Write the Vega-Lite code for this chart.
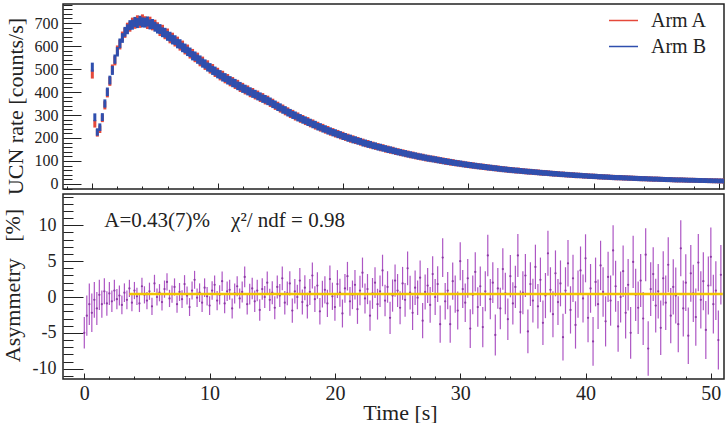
{
  "$schema": "https://vega.github.io/schema/vega-lite/v6.json",
  "background": "white",
  "padding": {"left": 0, "top": 3, "right": 2, "bottom": 0},
  "config": {
    "font": "Liberation Serif",
    "view": {"stroke": "#222", "strokeWidth": 1.5},
    "axis": {"domain": false, "grid": false, "tickColor": "#222", "tickWidth": 1, "labelColor": "#222", "titleColor": "#222", "labelFont": "Liberation Serif", "titleFont": "Liberation Serif", "titleFontWeight": "normal"},
    "legend": {"labelFont": "Liberation Serif"},
    "text": {"font": "Liberation Serif"}
  },
  "datasets": {
    "ucn": [
      {"t":0,"a":478,"b":508,"s":-5,"e":2.2},
      {"t":0.2,"a":262,"b":290,"s":-2.6,"e":2.8},
      {"t":0.4,"a":222,"b":226,"s":-1,"e":2.9},
      {"t":0.6,"a":238,"b":247,"s":-2.2,"e":2.7},
      {"t":0.8,"a":286,"b":291,"s":-0.4,"e":2.5},
      {"t":1,"a":342,"b":350,"s":-1.6,"e":2.3},
      {"t":1.2,"a":395,"b":401,"s":0.3,"e":2.1},
      {"t":1.4,"a":446,"b":452,"s":-1,"e":1.9},
      {"t":1.6,"a":500,"b":494,"s":0.8,"e":1.8},
      {"t":1.8,"a":536,"b":543,"s":-0.9,"e":1.7},
      {"t":2,"a":582,"b":575,"s":0.5,"e":1.6},
      {"t":2.2,"a":606,"b":612,"s":-0.6,"e":1.5},
      {"t":2.4,"a":642,"b":635,"s":0.9,"e":1.5},
      {"t":2.6,"a":657,"b":662,"s":-0.3,"e":1.4},
      {"t":2.8,"a":680,"b":673,"s":0.2,"e":1.4},
      {"t":3,"a":684,"b":691,"s":-1.1,"e":1.3},
      {"t":3.2,"a":702,"b":693,"s":0.6,"e":1.3},
      {"t":3.4,"a":697,"b":705,"s":-0.4,"e":1.3},
      {"t":3.6,"a":712,"b":700,"s":1.2,"e":1.2},
      {"t":3.8,"a":701,"b":710,"s":-0.8,"e":1.2},
      {"t":4,"a":716,"b":703,"s":0.9,"e":1.2},
      {"t":4.2,"a":708,"b":702,"s":0.1,"e":1.2},
      {"t":4.4,"a":696,"b":707,"s":-0.9,"e":1.2},
      {"t":4.6,"a":706,"b":694,"s":1.5,"e":1.2},
      {"t":4.8,"a":690,"b":696,"s":0.3,"e":1.2},
      {"t":5,"a":693,"b":684,"s":-0.5,"e":1.2},
      {"t":5.2,"a":682,"b":676,"s":0.8,"e":1.2},
      {"t":5.4,"a":665,"b":674,"s":-1.3,"e":1.2},
      {"t":5.6,"a":671,"b":660,"s":1.9,"e":1.2},
      {"t":5.8,"a":651,"b":658,"s":0,"e":1.2},
      {"t":6,"a":655,"b":644,"s":0.6,"e":1.2},
      {"t":6.2,"a":633,"b":641,"s":-0.7,"e":1.2},
      {"t":6.4,"a":637,"b":628,"s":1.1,"e":1.2},
      {"t":6.6,"a":619,"b":626,"s":2.1,"e":1.2},
      {"t":6.8,"a":620,"b":611,"s":-0.2,"e":1.2},
      {"t":7,"a":601,"b":609,"s":0.4,"e":1.2},
      {"t":7.2,"a":603,"b":594,"s":1.4,"e":1.2},
      {"t":7.4,"a":584,"b":590,"s":-1,"e":1.2},
      {"t":7.6,"a":586,"b":577,"s":0.7,"e":1.25},
      {"t":7.8,"a":566,"b":573,"s":-0.3,"e":1.25},
      {"t":8,"a":567,"b":558,"s":1.8,"e":1.25},
      {"t":8.2,"a":550,"b":556,"s":0.2,"e":1.25},
      {"t":8.4,"a":551,"b":543,"s":-1.4,"e":1.25},
      {"t":8.6,"a":532,"b":539,"s":0.9,"e":1.25},
      {"t":8.8,"a":534,"b":526,"s":2.4,"e":1.25},
      {"t":9,"a":516,"b":522,"s":-0.1,"e":1.3},
      {"t":9.2,"a":518,"b":509,"s":0.6,"e":1.3},
      {"t":9.4,"a":500,"b":506,"s":-0.8,"e":1.3},
      {"t":9.6,"a":502,"b":494,"s":1.3,"e":1.3},
      {"t":9.8,"a":485,"b":491,"s":0.1,"e":1.3},
      {"t":10,"a":486,"b":479,"s":-1.2,"e":1.3},
      {"t":10.2,"a":470,"b":476,"s":0.9,"e":1.3},
      {"t":10.4,"a":473,"b":465,"s":1.7,"e":1.3},
      {"t":10.6,"a":457,"b":463,"s":-0.5,"e":1.35},
      {"t":10.8,"a":459,"b":452,"s":0.3,"e":1.35},
      {"t":11,"a":444,"b":450,"s":2.2,"e":1.35},
      {"t":11.2,"a":446,"b":440,"s":-0.9,"e":1.35},
      {"t":11.4,"a":432,"b":438,"s":0.8,"e":1.35},
      {"t":11.6,"a":434,"b":427,"s":1,"e":1.4},
      {"t":11.8,"a":419,"b":425,"s":-1.6,"e":1.4},
      {"t":12,"a":421,"b":415,"s":0.5,"e":1.4},
      {"t":12.2,"a":408,"b":413,"s":1.5,"e":1.4},
      {"t":12.4,"a":410,"b":404,"s":-0.2,"e":1.4},
      {"t":12.6,"a":396,"b":402,"s":0.7,"e":1.45},
      {"t":12.8,"a":399,"b":393,"s":2.8,"e":1.45},
      {"t":13,"a":386,"b":391,"s":-1,"e":1.45},
      {"t":13.2,"a":388,"b":382,"s":0.4,"e":1.45},
      {"t":13.4,"a":375,"b":380,"s":1.2,"e":1.5},
      {"t":13.6,"a":377,"b":371,"s":-0.6,"e":1.5},
      {"t":13.8,"a":364,"b":369,"s":0.9,"e":1.5},
      {"t":14,"a":366,"b":361,"s":-1.8,"e":1.5},
      {"t":14.2,"a":353,"b":358,"s":1.1,"e":1.5},
      {"t":14.4,"a":353,"b":348,"s":0,"e":1.55},
      {"t":14.6,"a":340,"b":345,"s":2,"e":1.55},
      {"t":14.8,"a":340,"b":335,"s":-0.4,"e":1.55},
      {"t":15,"a":328,"b":333,"s":0.6,"e":1.6},
      {"t":15.2,"a":328,"b":323,"s":-1.5,"e":1.6},
      {"t":15.4,"a":316,"b":321,"s":1.4,"e":1.6},
      {"t":15.6,"a":316,"b":311,"s":0.2,"e":1.6},
      {"t":15.8,"a":304,"b":309,"s":2.6,"e":1.65},
      {"t":16,"a":305,"b":300,"s":-0.8,"e":1.65},
      {"t":16.2,"a":293,"b":298,"s":0.5,"e":1.65},
      {"t":16.4,"a":294,"b":289,"s":1.9,"e":1.7},
      {"t":16.6,"a":283,"b":287,"s":-1.9,"e":1.7},
      {"t":16.8,"a":283,"b":279,"s":0.8,"e":1.7},
      {"t":17,"a":273,"b":277,"s":0,"e":1.7},
      {"t":17.2,"a":274,"b":269,"s":2.3,"e":1.75},
      {"t":17.4,"a":263,"b":267,"s":-0.7,"e":1.75},
      {"t":17.6,"a":264,"b":259,"s":1.3,"e":1.75},
      {"t":17.8,"a":253,"b":258,"s":-1.2,"e":1.8},
      {"t":18,"a":254,"b":249,"s":0.7,"e":1.8},
      {"t":18.2,"a":244,"b":248,"s":3,"e":1.8},
      {"t":18.4,"a":245,"b":240,"s":-0.3,"e":1.8},
      {"t":18.6,"a":235,"b":239,"s":1.6,"e":1.85},
      {"t":18.8,"a":236,"b":231,"s":-2,"e":1.85},
      {"t":19,"a":226,"b":230,"s":0.4,"e":1.85},
      {"t":19.2,"a":227,"b":223,"s":1,"e":1.9},
      {"t":19.4,"a":218,"b":222,"s":-0.9,"e":1.9},
      {"t":19.6,"a":219,"b":215,"s":2.5,"e":1.9},
      {"t":19.8,"a":210,"b":214,"s":0.1,"e":1.9},
      {"t":20,"a":211,"b":207,"s":-1.4,"e":1.9},
      {"t":20.2,"a":203,"b":206,"s":1.8,"e":1.95},
      {"t":20.4,"a":203,"b":199,"s":0.6,"e":1.95},
      {"t":20.6,"a":195,"b":199,"s":-2.3,"e":1.95},
      {"t":20.8,"a":196,"b":192,"s":1.2,"e":2},
      {"t":21,"a":189,"b":192,"s":2.9,"e":2},
      {"t":21.2,"a":189,"b":186,"s":-0.6,"e":2},
      {"t":21.4,"a":182,"b":185,"s":0.3,"e":2},
      {"t":21.6,"a":182,"b":178,"s":1.7,"e":2.05},
      {"t":21.8,"a":175,"b":178,"s":-1.7,"e":2.05},
      {"t":22,"a":176,"b":172,"s":0.9,"e":2.05},
      {"t":22.2,"a":169,"b":172,"s":3.4,"e":2.1},
      {"t":22.4,"a":169,"b":166,"s":-0.2,"e":2.1},
      {"t":22.6,"a":163,"b":166,"s":1.1,"e":2.1},
      {"t":22.8,"a":163,"b":160,"s":-2.6,"e":2.1},
      {"t":23,"a":157,"b":160,"s":0.5,"e":2.15},
      {"t":23.2,"a":158,"b":155,"s":2,"e":2.15},
      {"t":23.4,"a":151,"b":154,"s":-1,"e":2.15},
      {"t":23.6,"a":152,"b":149,"s":0.8,"e":2.2},
      {"t":23.8,"a":146,"b":149,"s":3.7,"e":2.2},
      {"t":24,"a":147,"b":144,"s":-0.5,"e":2.2},
      {"t":24.2,"a":140.5,"b":143,"s":1.4,"e":2.2},
      {"t":24.4,"a":141,"b":138.5,"s":-2.9,"e":2.25},
      {"t":24.6,"a":135.5,"b":138,"s":0.2,"e":2.25},
      {"t":24.8,"a":136,"b":133.5,"s":2.3,"e":2.25},
      {"t":25,"a":130.5,"b":133,"s":0.9,"e":2.3},
      {"t":25.2,"a":131,"b":128.5,"s":-1.5,"e":2.3},
      {"t":25.4,"a":125.5,"b":128,"s":1.9,"e":2.3},
      {"t":25.6,"a":126.5,"b":124,"s":-0.4,"e":2.35},
      {"t":25.8,"a":121,"b":123.5,"s":4,"e":2.35},
      {"t":26,"a":121.5,"b":119,"s":0.6,"e":2.35},
      {"t":26.2,"a":116.5,"b":119,"s":-2.2,"e":2.4},
      {"t":26.4,"a":117.5,"b":115,"s":1.3,"e":2.4},
      {"t":26.6,"a":112,"b":114.5,"s":-0.1,"e":2.4},
      {"t":26.8,"a":113,"b":110.5,"s":2.7,"e":2.4},
      {"t":27,"a":108.5,"b":110.5,"s":-3.3,"e":2.45},
      {"t":27.2,"a":109.5,"b":107,"s":0.7,"e":2.45},
      {"t":27.4,"a":104.5,"b":107,"s":1.6,"e":2.45},
      {"t":27.6,"a":105.5,"b":103,"s":-1.1,"e":2.5},
      {"t":27.8,"a":100.5,"b":103,"s":3.2,"e":2.5},
      {"t":28,"a":101.5,"b":99,"s":0,"e":2.5},
      {"t":28.2,"a":96.5,"b":99,"s":1.8,"e":2.5},
      {"t":28.4,"a":98,"b":95.5,"s":-3.8,"e":2.6},
      {"t":28.6,"a":93,"b":95.5,"s":5.5,"e":2.7},
      {"t":28.8,"a":94.5,"b":92,"s":-0.6,"e":2.55},
      {"t":29,"a":89.8,"b":91.6,"s":0.9,"e":2.6},
      {"t":29.2,"a":90.8,"b":88.7,"s":-3.8,"e":2.6},
      {"t":29.4,"a":86.6,"b":88.9,"s":2.2,"e":2.6},
      {"t":29.6,"a":87.3,"b":85.2,"s":0.4,"e":2.6},
      {"t":29.8,"a":83.2,"b":85.4,"s":-1.9,"e":2.65},
      {"t":30,"a":84.1,"b":82.2,"s":5,"e":2.65},
      {"t":30.2,"a":80.3,"b":82.3,"s":1.1,"e":2.65},
      {"t":30.4,"a":81.2,"b":79.2,"s":-0.8,"e":2.7},
      {"t":30.6,"a":77.4,"b":79.3,"s":2.6,"e":2.7},
      {"t":30.8,"a":78.1,"b":76.3,"s":-4.4,"e":2.7},
      {"t":31,"a":74.8,"b":76.6,"s":0.3,"e":2.7},
      {"t":31.2,"a":75.6,"b":73.8,"s":3.5,"e":2.75},
      {"t":31.4,"a":72,"b":73.7,"s":-1.4,"e":2.75},
      {"t":31.6,"a":72.6,"b":70.9,"s":1.5,"e":2.75},
      {"t":31.8,"a":69.5,"b":71.2,"s":-4.2,"e":2.8},
      {"t":32,"a":70,"b":68.4,"s":0.8,"e":2.8},
      {"t":32.2,"a":67,"b":68.7,"s":5.8,"e":2.9},
      {"t":32.4,"a":67.5,"b":65.9,"s":-0.3,"e":2.8},
      {"t":32.6,"a":64.1,"b":65.7,"s":2,"e":2.85},
      {"t":32.8,"a":65,"b":63.4,"s":-5.3,"e":2.85},
      {"t":33,"a":62.1,"b":63.6,"s":1.2,"e":2.85},
      {"t":33.2,"a":62.4,"b":61,"s":-1.6,"e":2.9},
      {"t":33.4,"a":59.6,"b":61.1,"s":3.9,"e":2.9},
      {"t":33.6,"a":60.4,"b":59,"s":0.5,"e":2.9},
      {"t":33.8,"a":57.6,"b":59,"s":-3.1,"e":2.9},
      {"t":34,"a":58.8,"b":57.4,"s":2.9,"e":2.95},
      {"t":34.2,"a":55.7,"b":57,"s":-0.9,"e":2.95},
      {"t":34.4,"a":56.3,"b":55,"s":1.4,"e":2.95},
      {"t":34.6,"a":53.7,"b":55,"s":5.8,"e":3},
      {"t":34.8,"a":54.2,"b":53,"s":-2.1,"e":3},
      {"t":35,"a":52.2,"b":53.4,"s":0.6,"e":3},
      {"t":35.2,"a":52.8,"b":51.5,"s":3,"e":3},
      {"t":35.4,"a":50.3,"b":51.4,"s":-4.8,"e":3.05},
      {"t":35.6,"a":50.8,"b":49.5,"s":1.8,"e":3.05},
      {"t":35.8,"a":48.3,"b":49.4,"s":-0.5,"e":3.05},
      {"t":36,"a":48.7,"b":47.6,"s":4.2,"e":3.1},
      {"t":36.2,"a":46.9,"b":47.9,"s":-1.3,"e":3.1},
      {"t":36.4,"a":47.2,"b":46.1,"s":2.4,"e":3.1},
      {"t":36.6,"a":44.9,"b":45.9,"s":-3.6,"e":3.1},
      {"t":36.8,"a":45.1,"b":44.1,"s":0.2,"e":3.15},
      {"t":37,"a":43.4,"b":44.4,"s":6.1,"e":3.15},
      {"t":37.2,"a":43.6,"b":42.6,"s":1,"e":3.15},
      {"t":37.4,"a":41.4,"b":42.3,"s":-2.4,"e":3.2},
      {"t":37.6,"a":42,"b":41.1,"s":3.3,"e":3.2},
      {"t":37.8,"a":40,"b":40.9,"s":-0.7,"e":3.2},
      {"t":38,"a":40.5,"b":39.6,"s":1.9,"e":3.2},
      {"t":38.2,"a":38.5,"b":39.4,"s":-5.6,"e":3.25},
      {"t":38.4,"a":39,"b":38.1,"s":0.9,"e":3.25},
      {"t":38.6,"a":37,"b":37.9,"s":4.7,"e":3.25},
      {"t":38.8,"a":37.5,"b":36.6,"s":-1.8,"e":3.3},
      {"t":39,"a":36,"b":36.8,"s":2.6,"e":3.3},
      {"t":39.2,"a":36,"b":35.2,"s":-3.9,"e":3.3},
      {"t":39.4,"a":34.6,"b":35.3,"s":0.4,"e":3.3},
      {"t":39.6,"a":34.5,"b":33.7,"s":3.7,"e":3.35},
      {"t":39.8,"a":33.1,"b":33.8,"s":-0.2,"e":3.35},
      {"t":40,"a":33.4,"b":32.7,"s":5.4,"e":3.35},
      {"t":40.2,"a":32.1,"b":32.8,"s":-2.9,"e":3.4},
      {"t":40.4,"a":31.9,"b":31.2,"s":1.2,"e":3.4},
      {"t":40.6,"a":30.6,"b":31.3,"s":-6.2,"e":3.4},
      {"t":40.8,"a":30.9,"b":30.2,"s":2.1,"e":3.4},
      {"t":41,"a":29.6,"b":30.3,"s":-1,"e":3.45},
      {"t":41.2,"a":29.9,"b":29.2,"s":4.4,"e":3.45},
      {"t":41.4,"a":28.2,"b":28.8,"s":0.7,"e":3.45},
      {"t":41.6,"a":28.4,"b":27.7,"s":-3.4,"e":3.5},
      {"t":41.8,"a":27.2,"b":27.8,"s":2.8,"e":3.5},
      {"t":42,"a":27.8,"b":27.2,"s":-0.5,"e":3.5},
      {"t":42.2,"a":26.7,"b":27.3,"s":6.5,"e":3.5},
      {"t":42.4,"a":26.8,"b":26.2,"s":1.5,"e":3.55},
      {"t":42.6,"a":25.7,"b":26.3,"s":-4.1,"e":3.55},
      {"t":42.8,"a":25.8,"b":25.2,"s":0,"e":3.55},
      {"t":43,"a":24.7,"b":25.3,"s":3.6,"e":3.6},
      {"t":43.2,"a":24.8,"b":24.2,"s":-2.2,"e":3.6},
      {"t":43.4,"a":23.7,"b":24.3,"s":1.7,"e":3.6},
      {"t":43.6,"a":23.8,"b":23.2,"s":-5,"e":3.6},
      {"t":43.8,"a":22.7,"b":23.3,"s":4.9,"e":3.65},
      {"t":44,"a":23.3,"b":22.7,"s":0.3,"e":3.65},
      {"t":44.2,"a":22.2,"b":22.8,"s":-1.5,"e":3.65},
      {"t":44.4,"a":22.3,"b":21.7,"s":2.3,"e":3.7},
      {"t":44.6,"a":21.2,"b":21.8,"s":-3,"e":3.7},
      {"t":44.8,"a":21.3,"b":20.8,"s":5.9,"e":3.7},
      {"t":45,"a":20.7,"b":21.2,"s":-7.2,"e":3.8},
      {"t":45.2,"a":20.8,"b":20.3,"s":1.1,"e":3.75},
      {"t":45.4,"a":19.7,"b":20.2,"s":3.2,"e":3.75},
      {"t":45.6,"a":19.8,"b":19.3,"s":-1.2,"e":3.75},
      {"t":45.8,"a":18.8,"b":19.3,"s":0.8,"e":3.8},
      {"t":46,"a":19.2,"b":18.7,"s":-4.3,"e":3.8},
      {"t":46.2,"a":18.3,"b":18.8,"s":2.6,"e":3.8},
      {"t":46.4,"a":18.3,"b":17.8,"s":-0.8,"e":3.8},
      {"t":46.6,"a":17.3,"b":17.8,"s":4.5,"e":3.85},
      {"t":46.8,"a":17.7,"b":17.2,"s":-2.6,"e":3.85},
      {"t":47,"a":17.1,"b":17.6,"s":1.4,"e":3.85},
      {"t":47.2,"a":17.2,"b":16.8,"s":0.2,"e":3.9},
      {"t":47.4,"a":16.3,"b":16.7,"s":-3.8,"e":3.9},
      {"t":47.6,"a":16.4,"b":16,"s":6.8,"e":3.9},
      {"t":47.8,"a":15.8,"b":16.2,"s":-1.6,"e":3.9},
      {"t":48,"a":16.1,"b":15.7,"s":2,"e":3.95},
      {"t":48.2,"a":15.3,"b":15.7,"s":-5.4,"e":3.95},
      {"t":48.4,"a":15.4,"b":15,"s":3.3,"e":3.95},
      {"t":48.6,"a":14.8,"b":15.2,"s":0.5,"e":4},
      {"t":48.8,"a":15,"b":14.6,"s":-2.8,"e":4},
      {"t":49,"a":14.3,"b":14.7,"s":4.8,"e":4},
      {"t":49.2,"a":14.4,"b":14,"s":-0.4,"e":4},
      {"t":49.4,"a":13.8,"b":14.2,"s":2.2,"e":4.05},
      {"t":49.6,"a":13.9,"b":13.5,"s":-4.6,"e":4.05},
      {"t":49.8,"a":13.3,"b":13.7,"s":1.6,"e":4.05},
      {"t":50,"a":13.4,"b":13,"s":5.6,"e":4.1},
      {"t":50.2,"a":12.8,"b":13.2,"s":-1,"e":4.1},
      {"t":50.4,"a":12.9,"b":12.5,"s":0.9,"e":4.1},
      {"t":50.6,"a":12.3,"b":12.7,"s":-6,"e":4.1},
      {"t":50.8,"a":12.5,"b":12.1,"s":3.1,"e":4.15}
    ]
  },
  "spacing": 5,
  "bounds": "flush",
  "vconcat": [
    {
      "width": 661,
      "height": 185,
      "resolve": {"axis": {"x": "independent", "y": "independent"}},
      "layer": [
        {
          "data": {"name": "ucn"},
          "mark": {"type": "tick", "orient": "vertical", "thickness": 3, "color": "#e5483a", "opacity": 1, "clip": true},
          "encoding": {
            "x": {
              "field": "t", "type": "quantitative",
              "scale": {"domain": [-2.34, 50.41], "nice": false, "zero": false},
              "axis": {"orient": "bottom", "title": null, "labels": false, "values": [0, 10, 20, 30, 40, 50], "tickSize": -6}
            },
            "y": {
              "field": "a", "type": "quantitative",
              "scale": {"domain": [-22, 783], "nice": false, "zero": false},
              "axis": {
                "orient": "left", "title": "UCN rate [counts/s]", "ticks": false, "labelOverlap": false,
                "values": [0, 100, 200, 300, 400, 500, 600, 700],
                "labelFontSize": 16, "labelPadding": 5,
                "titleFontSize": 22, "titleAngle": 270, "titleAlign": "center", "titleBaseline": "alphabetic",
                "titleX": -41, "titleY": 102
              }
            },
            "size": {"field": "a", "type": "quantitative", "scale": {"type": "sqrt", "domain": [0, 700], "range": [4, 10]}, "legend": null}
          }
        },
        {
          "data": {"name": "ucn"},
          "mark": {"type": "tick", "orient": "vertical", "thickness": 3, "color": "#2f4fae", "opacity": 1, "clip": true},
          "encoding": {
            "x": {
              "field": "t", "type": "quantitative",
              "axis": {"orient": "bottom", "title": null, "labels": false, "values": [-2,2,4,6,8,12,14,16,18,22,24,26,28,32,34,36,38,42,44,46,48], "tickSize": -3}
            },
            "y": {
              "field": "b", "type": "quantitative",
              "axis": {"orient": "left", "title": null, "labels": false, "values": [0, 100, 200, 300, 400, 500, 600, 700], "tickSize": -18}
            },
            "size": {"field": "b", "type": "quantitative", "legend": null}
          }
        },
        {
          "data": {"values": [{"arm": "Arm A"}, {"arm": "Arm B"}]},
          "mark": {"type": "line", "strokeWidth": 1.5},
          "encoding": {
            "x": {"field": "t", "type": "quantitative", "axis": null},
            "y": {
              "field": "a", "type": "quantitative",
              "axis": {"orient": "left", "title": null, "labels": false, "values": [-20,20,40,60,80,120,140,160,180,220,240,260,280,320,340,360,380,420,440,460,480,520,540,560,580,620,640,660,680,720,740,760,780], "tickSize": -9}
            },
            "color": {
              "field": "arm", "type": "nominal",
              "scale": {"domain": ["Arm A", "Arm B"], "range": ["#e5483a", "#2f4fae"]},
              "legend": {
                "title": null, "orient": "none", "legendX": 545, "legendY": 1, "padding": 0,
                "symbolType": "stroke", "symbolSize": 841, "symbolStrokeWidth": 1.5,
                "labelFont": "Liberation Serif", "labelFontSize": 20, "labelColor": "#222",
                "labelOffset": 12, "rowPadding": -4
              }
            }
          }
        }
      ]
    },
    {
      "width": 661,
      "height": 185,
      "resolve": {"axis": {"x": "independent", "y": "independent"}},
      "layer": [
        {
          "data": {"name": "ucn"},
          "mark": {"type": "errorbar", "ticks": false, "color": "#ad56c4", "clip": true, "rule": {"strokeWidth": 1.2}},
          "encoding": {
            "x": {
              "field": "t", "type": "quantitative",
              "scale": {"domain": [-1.7, 51.05], "nice": false, "zero": false},
              "axis": {
                "orient": "bottom", "title": "Time [s]", "ticks": false, "labelOverlap": false,
                "values": [0, 10, 20, 30, 40, 50],
                "labelFontSize": 20, "labelPadding": 4,
                "titleFontSize": 22, "titleX": 337, "titleY": 23, "titleBaseline": "top"
              }
            },
            "y": {
              "field": "s", "type": "quantitative",
              "scale": {"domain": [-11.44, 14.37], "nice": false, "zero": false},
              "axis": {
                "orient": "left", "title": "Asymmetry\u00a0\u00a0\u00a0[%]", "ticks": false, "labelOverlap": false,
                "values": [-10, -5, 0, 5, 10],
                "labelExpr": "'' + datum.value",
                "labelFontSize": 18, "labelPadding": 7,
                "titleFontSize": 22, "titleAngle": 270, "titleAlign": "center", "titleBaseline": "alphabetic",
                "titleX": -44, "titleY": 91
              }
            },
            "yError": {"field": "e"}
          }
        },
        {
          "data": {"name": "ucn"},
          "mark": {"type": "point", "filled": true, "size": 5, "color": "#8d3aa6", "opacity": 1, "clip": true},
          "encoding": {
            "x": {
              "field": "t", "type": "quantitative",
              "axis": {"orient": "bottom", "title": null, "labels": false, "values": [0, 10, 20, 30, 40, 50], "tickSize": -6}
            },
            "y": {
              "field": "s", "type": "quantitative",
              "axis": {"orient": "left", "title": null, "labels": false, "values": [-10, -5, 0, 5, 10], "tickSize": -20}
            }
          }
        },
        {
          "data": {"values": [{"start": 3.6, "end": 50.95, "fit": 0.43}]},
          "mark": {"type": "rule", "color": "#f2c400", "strokeWidth": 2.5},
          "encoding": {
            "x": {
              "field": "start", "type": "quantitative",
              "axis": {"orient": "bottom", "title": null, "labels": false, "values": [2,4,6,8,12,14,16,18,22,24,26,28,32,34,36,38,42,44,46,48], "tickSize": -3}
            },
            "x2": {"field": "end"},
            "y": {
              "field": "fit", "type": "quantitative",
              "axis": {"orient": "left", "title": null, "labels": false, "values": [-11,-9,-8,-7,-6,-4,-3,-2,-1,1,2,3,4,6,7,8,9,11,12,13,14], "tickSize": -10}
            }
          }
        },
        {
          "data": {"values": [{"t": 1.6, "s": 9.72, "label": "A=0.43(7)%\u00a0\u00a0\u00a0\u00a0χ²/ ndf = 0.98"}]},
          "mark": {"type": "text", "align": "left", "baseline": "alphabetic", "font": "Liberation Serif", "fontSize": 21, "color": "#222"},
          "encoding": {
            "x": {"field": "t", "type": "quantitative", "axis": null},
            "y": {"field": "s", "type": "quantitative", "axis": null},
            "text": {"field": "label"}
          }
        }
      ]
    }
  ]
}
